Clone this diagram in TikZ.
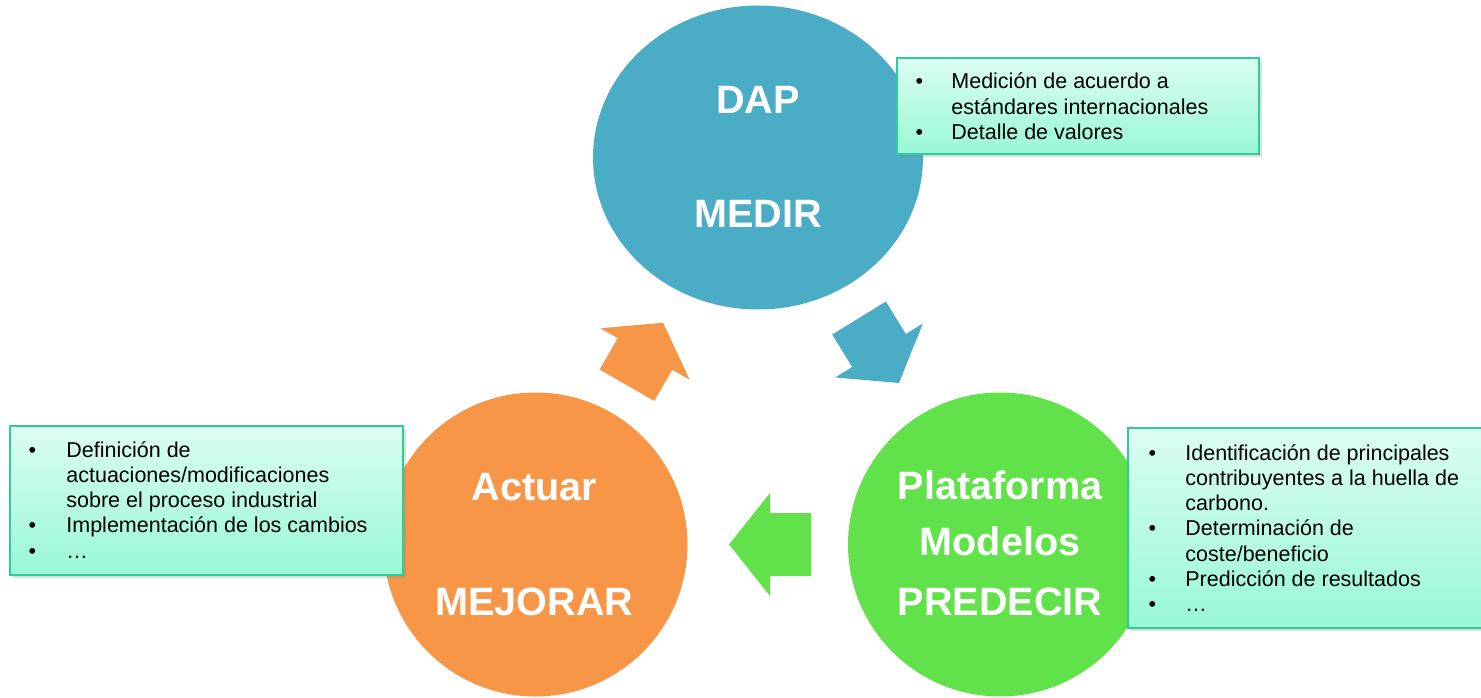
\documentclass[tikz,border=0pt]{standalone}
\usepackage{fontspec}
\setmainfont{Liberation Sans}
\usetikzlibrary{shapes.geometric,shadows}
\definecolor{dapblue}{HTML}{4BACC6}
\definecolor{actorange}{HTML}{F79646}
\definecolor{predgreen}{HTML}{62E24A}
\definecolor{boxtop}{HTML}{DCFDF1}
\definecolor{boxbot}{HTML}{98F8D6}
\definecolor{boxline}{HTML}{2ECC96}
\tikzset{
  x=0.5pt, y=0.5pt,
  infobox/.style={rectangle, draw=boxline, line width=1pt, inner sep=0pt,
    top color=boxtop, bottom color=boxbot,
    drop shadow={opacity=0.25, shadow xshift=1.5pt, shadow yshift=-1.5pt}},
  bigtitle/.style={anchor=base, text=white, inner sep=0pt,
    font=\fontsize{19.8pt}{23pt}\selectfont\bfseries},
  listtext/.style={anchor=base west, inner sep=0pt, text=black,
    font=\fontsize{10.75pt}{12.65pt}\selectfont},
  blockarrow/.pic={\fill[pic actions] (41,0) -- (0,51.5) -- (0,31.5) -- (-41,31.5)
     -- (-41,-31.5) -- (0,-31.5) -- (0,-51.5) -- cycle;}
}
\newcommand{\bul}[1]{\llap{\makebox[0pt]{•}\hspace{#1}}}
\begin{document}
\begin{tikzpicture}
\path[use as bounding box, clip] (0,0) rectangle (1481,697);
% circles
\node[ellipse, fill=dapblue, inner sep=0pt, minimum width=165pt, minimum height=152pt] (dap) at (758,539.5) {};
\node[circle, fill=actorange, inner sep=0pt, minimum size=152pt] (act) at (535.5,152.5) {};
\node[circle, fill=predgreen, inner sep=0pt, minimum size=152pt] (pred) at (1000,152.5) {};
% block arrows
\pic[fill=actorange, rotate=60, xscale=0.88] (arrA) at (645,343) {blockarrow};
\pic[fill=dapblue, rotate=-58.4, xscale=0.93] (arrB) at (879,346.5) {blockarrow};
\pic[fill=predgreen, rotate=180] (arrC) at (770,152.5) {blockarrow};
% titles
\node[bigtitle] (t1) at (758,583) {DAP};
\node[bigtitle] (t2) at (758,469) {MEDIR};
\node[bigtitle] (t3) at (534.5,197) {Actuar};
\node[bigtitle] (t4) at (534.5,82) {MEJORAR};
\node[bigtitle] (t5) at (1000,198) {Plataforma};
\node[bigtitle] (t6) at (1000,142) {Modelos};
\node[bigtitle] (t7) at (1000,82) {PREDECIR};
% info boxes
\node[infobox, minimum width=181pt, minimum height=48pt] (box1) at (1078,591) {};
\node[listtext] (l1) at (951,608) {\begin{tabular}[t]{@{}l@{}}
\bul{16pt}Medición de acuerdo a\\
estándares internacionales\\
\bul{16pt}Detalle de valores\end{tabular}};
\node[infobox, minimum width=196.5pt, minimum height=74.5pt] (box2) at (206.5,196.5) {};
\node[listtext] (l2) at (66,240) {\begin{tabular}[t]{@{}l@{}}
\bul{17pt}Definición de\\
actuaciones/modificaciones\\
sobre el proceso industrial\\
\bul{17pt}Implementación de los cambios\\
\bul{17pt}…\end{tabular}};
\node[infobox, minimum width=183.5pt, minimum height=100pt] (box3) at (1311.5,169) {};
\node[listtext] (l3) at (1185,237) {\begin{tabular}[t]{@{}l@{}}
\bul{16.5pt}Identificación de principales\\
contribuyentes a la huella de\\
carbono.\\
\bul{16.5pt}Determinación de\\
coste/beneficio\\
\bul{16.5pt}Predicción de resultados\\
\bul{16.5pt}…\end{tabular}};
\end{tikzpicture}
\end{document}
